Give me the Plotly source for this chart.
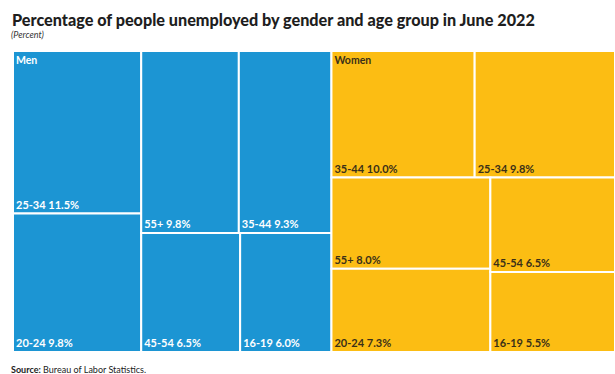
import plotly.graph_objects as go

# Unemployment rate (%) by age group, June 2022
men_ages = ["25-34", "20-24", "55+", "35-44", "45-54", "16-19"]
men_values = [11.5, 9.8, 9.8, 9.3, 6.5, 6.0]
women_ages = ["35-44", "25-34", "55+", "20-24", "45-54", "16-19"]
women_values = [10.0, 9.8, 8.0, 7.3, 6.5, 5.5]

groups = ["Men", "Women"]
group_colors = {"Men": "#1c95d3", "Women": "#fcbd13"}
group_text = {"Men": "#ffffff", "Women": "#3a3018"}

FONT = "Lato"

ids, labels, parents, values, colors, tcolors, templates = [], [], [], [], [], [], []
for g, ages, vals in [("Men", men_ages, men_values), ("Women", women_ages, women_values)]:
    ids.append(g)
    labels.append(g)
    parents.append("")
    values.append(0)
    colors.append(group_colors[g])
    tcolors.append(group_text[g])
    templates.append("")
    for a, v in zip(ages, vals):
        ids.append(f"{g}/{a}")
        labels.append(a)
        parents.append(g)
        values.append(v)
        colors.append(group_colors[g])
        tcolors.append(group_text[g])
        templates.append("%{label} %{value:.1f}%")

domain = dict(x=[13 / 615, 1.0], y=[22 / 374, 323 / 374])
tiling = dict(packing="squarify", pad=0)
pad = dict(t=0, l=0, r=0, b=0)

fig = go.Figure()

# age-group cells
fig.add_trace(go.Treemap(
    ids=ids, labels=labels, parents=parents, values=values,
    branchvalues="remainder",
    sort=True,
    marker=dict(colors=colors, line=dict(color="white", width=2), pad=pad),
    texttemplate=templates,
    textinfo="none",
    textposition="bottom left",
    textfont=dict(family=FONT, size=11, color=tcolors, weight="bold"),
    tiling=tiling,
    pathbar=dict(visible=False),
    domain=domain,
    hovertemplate="%{parent} %{label}: %{value:.1f}%<extra></extra>",
))

# gender headings laid over the same tiling
fig.add_trace(go.Treemap(
    labels=groups,
    parents=["", ""],
    values=[sum(men_values), sum(women_values)],
    sort=True,
    marker=dict(colors=["rgba(0,0,0,0)"] * 2, line=dict(width=0), pad=pad),
    texttemplate="%{label}",
    textposition="top left",
    textfont=dict(family=FONT, size=10.5, color=[group_text[g] for g in groups], weight="bold"),
    tiling=tiling,
    pathbar=dict(visible=False),
    domain=domain,
    hoverinfo="skip",
))

fig.update_layout(
    width=615, height=374,
    margin=dict(l=0, r=0, t=0, b=0),
    paper_bgcolor="white",
    font=dict(family=FONT, color="#222222"),
    title=dict(
        text="Percentage of people unemployed by gender and age group in June 2022",
        font=dict(family=FONT, size=16.2, color="#1e1e1e", weight=900),
        x=12 / 615, xanchor="left", xref="container",
        y=1 - 20 / 374, yanchor="middle", yref="container",
    ),
    annotations=[
        dict(text="<i>(Percent)</i>", x=9 / 615, y=1 - 34 / 374, xref="paper", yref="paper",
             xanchor="left", yanchor="middle", showarrow=False,
             font=dict(family=FONT, size=9, color="#333333")),
        dict(text="<b>Source:</b> Bureau of Labor Statistics.", x=9 / 615, y=1 - 369 / 374,
             xref="paper", yref="paper", xanchor="left", yanchor="middle", showarrow=False,
             font=dict(family=FONT, size=9, color="#222222")),
    ],
)

fig.write_html("out.html")
